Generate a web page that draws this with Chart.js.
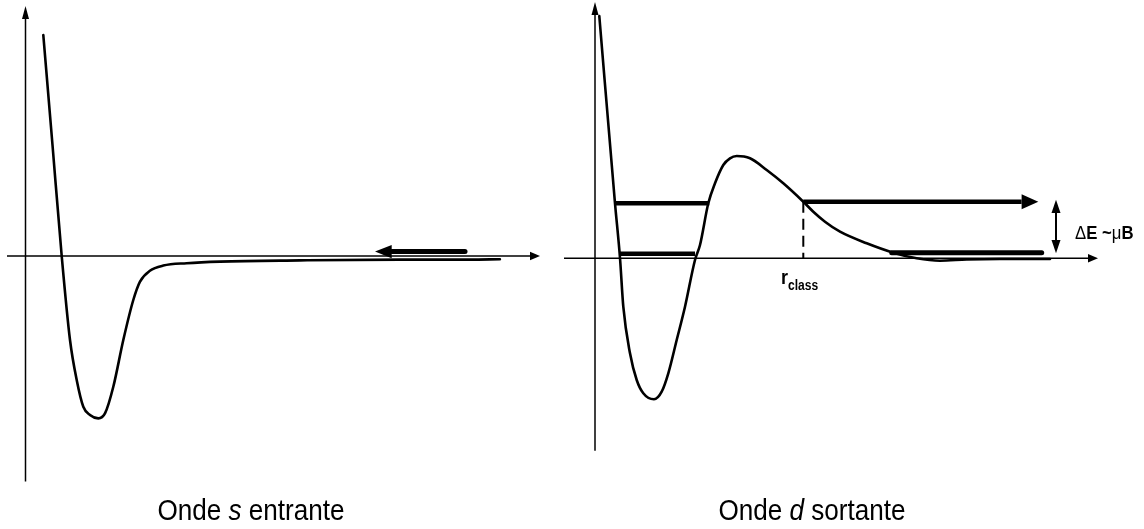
<!DOCTYPE html>
<html>
<head>
<meta charset="utf-8">
<script src="https://cdn.jsdelivr.net/npm/chart.js@4/dist/chart.umd.min.js"></script>
<style>
  html, body { margin:0; padding:0; background:#fff; }
  #wrap { position:relative; width:1144px; height:529px; overflow:hidden; }
  canvas { position:absolute; top:0; }
  .lbl { position:absolute; white-space:nowrap; line-height:1; color:#000; }
  .cap { font-family:"Liberation Sans",Arial,sans-serif; font-size:30px; width:600px; text-align:center; transform:scaleX(0.87); transform-origin:50% 0; }
  .de { font-family:"Liberation Sans",Arial,sans-serif; font-size:18px; transform:scaleX(0.93); transform-origin:0 0; }
  .de b { font-weight:bold; }
  .r { font-family:"Liberation Sans",Arial,sans-serif; font-weight:bold; transform:scaleX(0.86); transform-origin:0 0; }
</style>
</head>
<body>
<div id="wrap">
  <canvas id="cs" width="560" height="529" style="left:0"></canvas>
  <canvas id="cd" width="584" height="529" style="left:560px"></canvas>
  <div class="lbl cap" style="left:-49px; top:494.6px;">Onde <i>s</i> entrante</div>
  <div class="lbl cap" style="left:512px; top:494.6px;">Onde <i>d</i> sortante</div>
  <div class="lbl de" style="left:1075px; top:224px;">Δ<b>E ~</b>μ<b>B</b></div>
  <div class="lbl r" style="left:781px; top:265.5px; font-size:21px;">r</div>
  <div class="lbl r" style="left:788px; top:278.1px; font-size:14px;">class</div>
</div>
<script>
// ---------- Left panel: "Onde s entrante" (r, E in arbitrary units) ----------
const sCurveR = [0.445, 0.675, 0.905, 1.1125, 1.28, 1.445, 1.6125, 1.82, 1.99, 2.195, 2.445, 2.695, 2.8625, 3.11, 3.445, 4.03, 4.86, 6.86, 9.36, 11.11, 11.86];
const sCurveE = [5.525, 2.775, 0, -2.1, -3.1, -3.77, -3.975, -4.06, -3.93, -3.27, -2.1, -1.1, -0.64, -0.37, -0.24, -0.18, -0.14, -0.11, -0.09, -0.09, -0.08];
const sArrowR = [10.9875, 9.155];      // incoming arrow: tail -> head base
const sArrowE = [0.11, 0.11];
const sAxisR  = [-0.4625, 12.6125];    // r axis
const sAxisE  = [0, 0];
const sVAxisR = [0, 0];                // E axis
const sVAxisE = [-5.64, 5.925];
const sRange  = { rMin:-0.6375, rMax:13.3625, eMin:-6.825, eMax:6.4 };

// ---------- Right panel: "Onde d sortante" ----------
const dCurveR = [0.1075, 0.5, 0.625, 0.7075, 0.875, 1.0425, 1.2075, 1.475, 1.6675, 1.8325, 2.0425, 2.25, 2.5, 2.625, 2.8325, 3.0, 3.2075, 3.375, 3.5425, 3.875, 4.2925, 4.7075, 5.2075, 5.4575, 5.75, 6.125, 6.7925, 7.4575, 8.0425, 8.625, 9.2925, 10.125, 11.375];
const dCurveE = [6.0575, 1.375, 0.0075, -1.21, -2.375, -3.0425, -3.375, -3.525, -3.335, -2.875, -2.0425, -1.21, -0.0425, 0.3325, 1.375, 1.875, 2.3325, 2.5, 2.5575, 2.5, 2.2075, 1.875, 1.415, 1.165, 0.915, 0.665, 0.375, 0.14, 0, -0.06, -0.03, -0.0175, -0.0175];
const dUpperInR  = [0.5, 2.8575];      // level E+ΔE inside the well
const dUpperInE  = [1.375, 1.375];
const dLowerInR  = [0.6075, 2.5];      // level E inside the well
const dLowerInE  = [0.115, 0.115];
const dOutR      = [5.2075, 10.665];   // outgoing arrow from r_class
const dOutE      = [1.415, 1.415];
const dLowerOutR = [7.4175, 11.1675];  // lower channel asymptote
const dLowerOutE = [0.14, 0.14];
const dRclassR   = [5.2075, 5.2075];   // r_class dashed marker
const dRclassE   = [1.415, 0];
const dDeltaR    = [11.525, 11.525];   // ΔE double arrow (head bases)
const dDeltaE    = [0.4575, 1.1325];
const dAxisR  = [-0.775, 12.325];
const dAxisE  = [0, 0];
const dVAxisR = [0, 0];
const dVAxisE = [-4.81, 6.0825];
const dRange  = { rMin:-0.875, rMax:13.725, eMin:-6.7675, eMax:6.4575 };

// ---------- helpers ----------
const zip = (xs, ys) => xs.map((x, i) => ({ x, y: ys[i] }));

const arrowPlugin = {
  id: 'arrowHeads',
  afterDatasetsDraw(chart) {
    const ctx = chart.ctx;
    chart.data.datasets.forEach((ds, i) => {
      if (!ds.arrow) return;
      const pts = chart.getDatasetMeta(i).data;
      const n = pts.length;
      const head = (a, b) => {
        const dx = b.x - a.x, dy = b.y - a.y;
        const L = Math.hypot(dx, dy) || 1;
        const ux = dx / L, uy = dy / L;
        const { len, half } = ds.arrow;
        ctx.save();
        ctx.beginPath();
        ctx.moveTo(b.x + ux * len, b.y + uy * len);
        ctx.lineTo(b.x - uy * half, b.y + ux * half);
        ctx.lineTo(b.x + uy * half, b.y - ux * half);
        ctx.closePath();
        ctx.fillStyle = ds.borderColor;
        ctx.fill();
        ctx.restore();
      };
      if (ds.arrow.end) head(pts[n - 2], pts[n - 1]);
      if (ds.arrow.start) head(pts[1], pts[0]);
    });
  }
};

function line(data, opts) {
  return Object.assign({
    data, showLine: true, borderColor: '#000', backgroundColor: '#000',
    pointRadius: 0, pointHoverRadius: 0, borderWidth: 1.5, tension: 0,
    fill: false, clip: false, borderCapStyle: 'butt'
  }, opts || {});
}

function makeChart(id, range, datasets) {
  return new Chart(document.getElementById(id), {
    type: 'scatter',
    data: { datasets },
    options: {
      responsive: false, animation: false, events: [],
      layout: { padding: 0, autoPadding: false },
      plugins: { legend: { display: false }, tooltip: { enabled: false }, title: { display: false } },
      scales: {
        x: { type: 'linear', display: false, min: range.rMin, max: range.rMax },
        y: { type: 'linear', display: false, min: range.eMin, max: range.eMax }
      }
    },
    plugins: [arrowPlugin]
  });
}

makeChart('cs', sRange, [
  line(zip(sAxisR, sAxisE), { borderWidth: 1.5, arrow: { end: true, len: 10, half: 4.3 } }),
  line(zip(sVAxisR, sVAxisE), { borderWidth: 1.5, arrow: { end: true, len: 13, half: 3.5 } }),
  line(zip(sCurveR, sCurveE), { borderWidth: 2.6, cubicInterpolationMode: 'monotone', borderJoinStyle: 'round', borderCapStyle: 'round' }),
  line(zip(sArrowR, sArrowE), { borderWidth: 5, borderCapStyle: 'round', arrow: { end: true, len: 16.7, half: 6.7 } })
]);

makeChart('cd', dRange, [
  line(zip(dAxisR, dAxisE), { borderWidth: 1.5, arrow: { end: true, len: 10, half: 4.3 } }),
  line(zip(dVAxisR, dVAxisE), { borderWidth: 1.5, arrow: { end: true, len: 13, half: 3.5 } }),
  line(zip(dCurveR, dCurveE), { borderWidth: 2.6, cubicInterpolationMode: 'monotone', borderJoinStyle: 'round', borderCapStyle: 'round' }),
  line(zip(dUpperInR, dUpperInE), { borderWidth: 4.5 }),
  line(zip(dLowerInR, dLowerInE), { borderWidth: 4.5 }),
  line(zip(dOutR, dOutE), { borderWidth: 4.5, arrow: { end: true, len: 16.7, half: 7.5 } }),
  line(zip(dLowerOutR, dLowerOutE), { borderWidth: 5, borderCapStyle: 'round' }),
  line(zip(dRclassR, dRclassE), { borderWidth: 2, borderDash: [11, 6] }),
  line(zip(dDeltaR, dDeltaE), { borderWidth: 2, arrow: { start: true, end: true, len: 13.3, half: 4.5 } })
]);
</script>
</body>
</html>
